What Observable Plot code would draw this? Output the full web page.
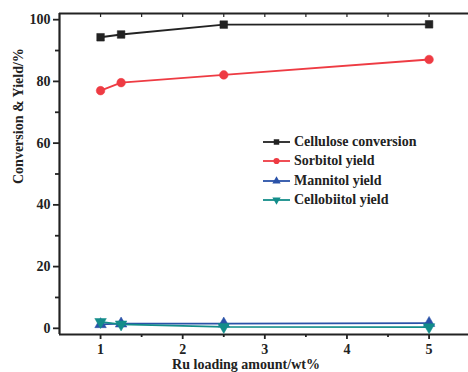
<!DOCTYPE html>
<html><head><meta charset="utf-8">
<script src="https://cdn.jsdelivr.net/npm/d3@7"></script>
<script src="https://cdn.jsdelivr.net/npm/@observablehq/plot@0.6"></script>
<style>
body{margin:0;background:#fff;}
#wrap{position:relative;width:468px;height:372px;overflow:hidden;}
#legend{position:absolute;left:262px;top:132px;font-family:"Liberation Serif",serif;font-weight:bold;font-size:14px;color:#222;}
.row{display:flex;align-items:center;height:19.5px;}
.row svg{margin-right:3px;}
</style></head>
<body><div id="wrap"></div>
<script>
const loading = [1, 1.25, 2.5, 5];
const cellulose = [94.3, 95.2, 98.4, 98.5];
const sorbitol = [77.0, 79.6, 82.1, 87.1];
const mannitol = [1.3, 1.5, 1.5, 1.7];
const cellobiitol = [2.1, 1.3, 0.5, 0.4];
const seriesNames = ["Cellulose conversion", "Sorbitol yield", "Mannitol yield", "Cellobiitol yield"];
const seriesColors = ["#222222", "#ee3b43", "#2a52a8", "#138d8a"];
const yTicks = [0, 20, 40, 60, 80, 100];
const yMinor = [10, 30, 50, 70, 90];
const xTicks = [1, 2, 3, 4, 5];
const xMinor = [1.5, 2.5, 3.5, 4.5];
const xLabel = "Ru loading amount/wt%";
const yLabel = "Conversion & Yield/%";

const invTri = {draw(ctx, size){ const s = Math.sqrt(size/ (Math.sqrt(3)/4)); const h = s*Math.sqrt(3)/2; ctx.moveTo(-s/2,-h/3); ctx.lineTo(s/2,-h/3); ctx.lineTo(0,2*h/3); ctx.closePath(); }};
const symbols = ["square", "circle", "triangle", invTri];
const allSeries = [cellulose, sorbitol, mannitol, cellobiitol];
const data = allSeries.flatMap((vals, i) => vals.map((v, j) => ({x: loading[j], y: v, s: i})));

const xDom = [0.5, 5.48], yDom = [-2, 102];
const marks = [];
allSeries.forEach((vals, i) => {
  const d = data.filter(r => r.s === i);
  marks.push(Plot.line(d, {x: "x", y: "y", stroke: seriesColors[i], strokeWidth: 1.8}));
  marks.push(Plot.dot(d, {x: "x", y: "y", fill: seriesColors[i], stroke: seriesColors[i], strokeWidth: 0.5, r: 4.3, symbol: () => symbols[i]}));
});

const chart = Plot.plot({
  width: 468, height: 372,
  marginLeft: 59, marginRight: 0, marginTop: 13, marginBottom: 38,
  x: {domain: xDom},
  y: {domain: yDom},
  style: {fontFamily: "Liberation Serif, serif", fontWeight: "bold", fontSize: "14px", color: "#222", background: "#fff"},
  marks: [
    Plot.axisY({ticks: yTicks, tickSize: 6, tickPadding: 3, label: null, strokeWidth: 1.8, tickFormat: d3.format("d")}),
    Plot.axisY({ticks: yMinor, tickSize: 4, tickFormat: () => "", label: null, strokeWidth: 1.8}),
    Plot.axisX({ticks: xTicks, tickSize: 5, tickPadding: 5, label: null, strokeWidth: 1.8, tickFormat: d3.format("d")}),
    Plot.axisX({ticks: xMinor, tickSize: 3, tickFormat: () => "", label: null, strokeWidth: 1.8}),
    Plot.axisX({anchor: "top", ticks: xTicks.concat(xMinor), tickSize: -3, tickFormat: () => "", label: null, strokeWidth: 1.2}),
    Plot.ruleY([yDom[0]], {strokeWidth: 2.2, stroke: "#222"}),
    Plot.ruleY([yDom[1]], {strokeWidth: 2, stroke: "#222"}),
    Plot.ruleX([xDom[0]], {strokeWidth: 2.2, stroke: "#222"}),
    ...marks,
    Plot.text([yLabel], {frameAnchor: "left", dx: -41, dy: 10, rotate: -90, fontSize: 14, fontWeight: "bold", fill: "#222"}),
    Plot.text([xLabel], {frameAnchor: "bottom", dx: -18, dy: 34.5, fontSize: 14, fontWeight: "bold", fill: "#222"})
  ]
});
const wrap = document.getElementById("wrap");
wrap.appendChild(chart);

const legend = d3.select(wrap).append("div").attr("id", "legend");
seriesNames.forEach((name, i) => {
  const row = legend.append("div").attr("class", "row");
  const svg = row.append("svg").attr("width", 29).attr("height", 12);
  svg.append("line").attr("x1", 1).attr("x2", 28).attr("y1", 6).attr("y2", 6).attr("stroke", seriesColors[i]).attr("stroke-width", 1.8);
  const sym = typeof symbols[i] === "string" ? {square: d3.symbolSquare, circle: d3.symbolCircle, triangle: d3.symbolTriangle}[symbols[i]] : symbols[i];
  svg.append("path").attr("transform", "translate(14.5,6)").attr("d", d3.symbol(sym, 30)()).attr("fill", seriesColors[i]);
  row.append("span").text(name);
});
</script></body></html>
